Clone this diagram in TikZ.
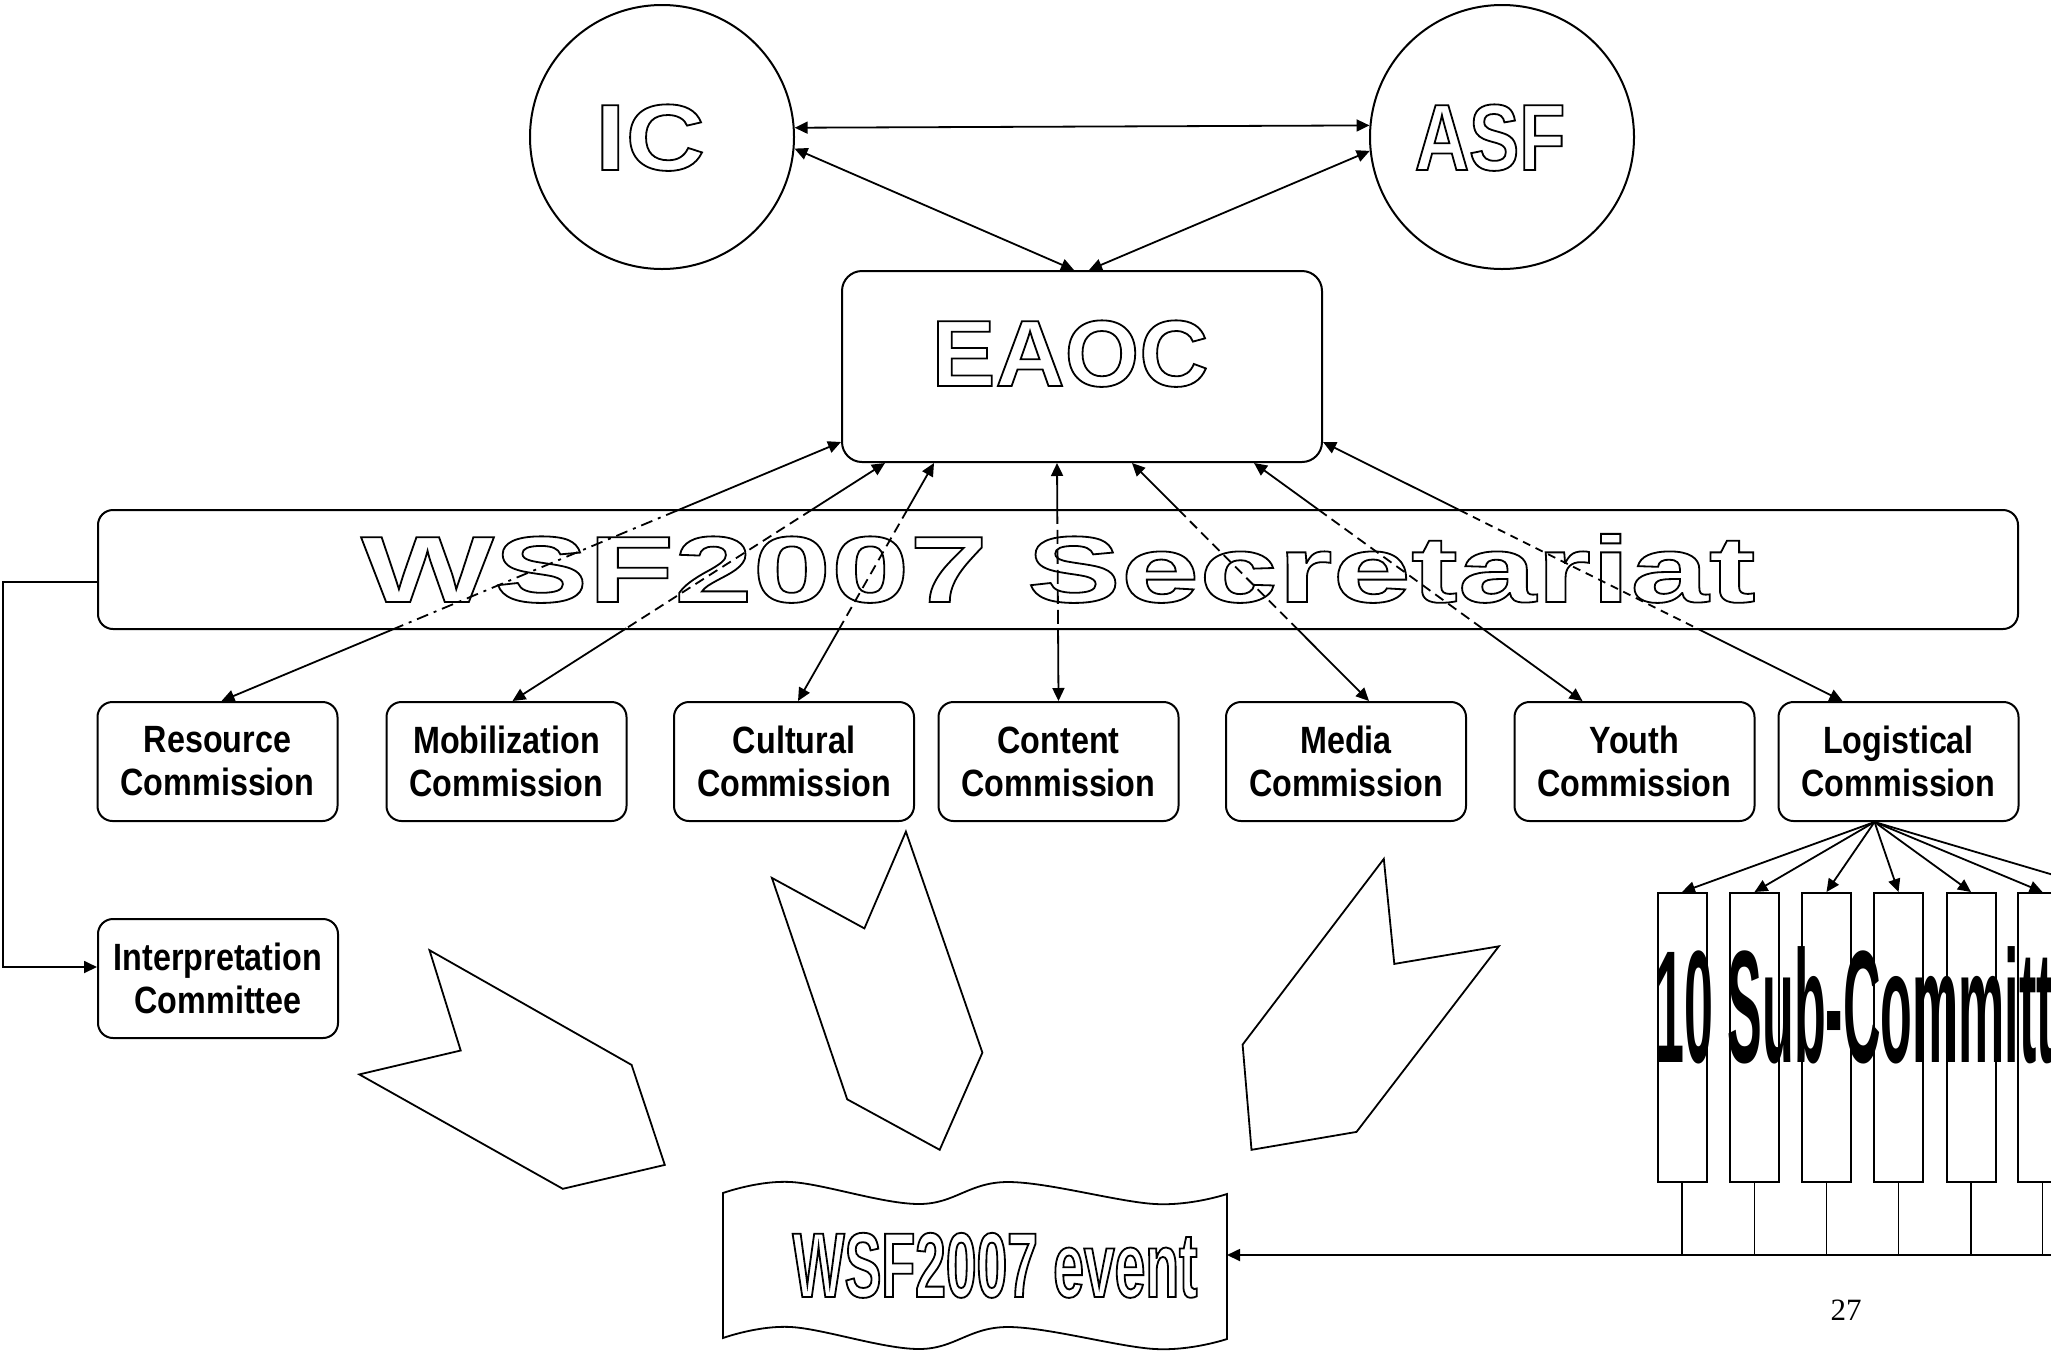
\documentclass[tikz,border=0pt]{standalone}
\usepackage{fontspec}
\setmainfont{Liberation Sans}
\newfontfamily\labf{Liberation Sans}[FakeStretch=0.85]
\newfontfamily\icf{Liberation Sans}[FakeStretch=1.17]
\newfontfamily\asff{Liberation Sans}[FakeStretch=0.8]
\newfontfamily\eaocf{Liberation Sans}[FakeStretch=1.02]
\newfontfamily\secf{Liberation Sans}[FakeStretch=1.5]
\newfontfamily\evf{Liberation Sans}[FakeStretch=0.6]
\newfontfamily\subf{Liberation Sans}[FakeStretch=0.325]
\newfontfamily\pnumf{Liberation Serif}
\usetikzlibrary{arrows.meta,calc}
\newcommand\outl[1]{\special{pdf:literal direct 1 Tr 0.9 w}#1\special{pdf:literal direct 0 Tr}}
\newcommand\secconn[5]{%
  \path (#1) -- (#2) coordinate[pos=#3] (q1) coordinate[pos=#4] (q2);
  \draw[arr] (q1) -- (#1);
  \draw[line width=0.9pt,#5] (q1) -- (q2);
  \draw[arr] (q2) -- (#2);
}
\begin{document}
\begin{tikzpicture}[x=0.5pt,y=-0.5pt,
  box/.style={draw,line width=1pt,rounded corners=7.5pt,minimum width=120pt,minimum height=59.5pt,inner sep=0pt,align=center,font=\labf\bfseries\fontsize{19}{21.5}\selectfont},
  subbox/.style={draw,line width=1pt,minimum width=24.5pt,minimum height=144.5pt,inner sep=0pt},
  arr/.style={line width=0.9pt,-{Triangle[length=6.5pt,width=6pt]}},
  darr/.style={line width=0.9pt,{Triangle[length=6.5pt,width=6pt]}-{Triangle[length=6.5pt,width=6pt]}},
  wa/.style={inner sep=0pt,anchor=base},
  poly/.style={line width=0.9pt,line join=miter},
  dashA/.style={dash pattern=on 6pt off 3pt on 1.5pt off 3pt},
  dashB/.style={dash pattern=on 5pt off 3pt}
]
\useasboundingbox (0,0) rectangle (2051,1350);
\clip (0,0) rectangle (2051,1350);

% main shapes
\node[draw,line width=1pt,circle,minimum size=132pt,inner sep=0pt] (ic) at (662,137) {};
\node[draw,line width=1pt,circle,minimum size=132pt,inner sep=0pt] (asf) at (1502,137) {};
\node[draw,line width=1pt,rounded corners=10pt,minimum width=240pt,minimum height=95.5pt,inner sep=0pt] (eaoc) at (1082,366.5) {};
\node[draw,line width=1pt,rounded corners=7.5pt,minimum width=960pt,minimum height=59.5pt,inner sep=0pt] (sec) at (1058,569.5) {};

\node[box] (res) at (217.5,761.5) {Resource\\Commission};
\node[box] (mob) at (506.5,761.5) {Mobilization\\Commission};
\node[box] (cul) at (794,761.5) {Cultural\\Commission};
\node[box] (con) at (1058.5,761.5) {Content\\Commission};
\node[box] (med) at (1346,761.5) {Media\\Commission};
\node[box] (you) at (1634.5,761.5) {Youth\\Commission};
\node[box] (log) at (1898.5,761.5) {Logistical\\Commission};
\node[box] (int) at (218,978.5) {Interpretation\\Committee};

% sub-committee bars
\node[subbox] (s1) at (1682,1037.5) {};
\node[subbox] (s2) at (1754.5,1037.5) {};
\node[subbox] (s3) at (1826.5,1037.5) {};
\node[subbox] (s4) at (1898.5,1037.5) {};
\node[subbox] (s5) at (1971,1037.5) {};
\node[subbox] (s6) at (2042.5,1037.5) {};
\node[wa,anchor=base west,font=\subf\bfseries\fontsize{80}{84}\selectfont] (subt) at (1655,1062) {10 Sub-Committees};

% top triangle of arrows
\draw[darr] (ic.4.8) -- (asf.175.2);
\draw[darr] (ic.-5.6) -- ([xshift=-4pt]eaoc.north);
\draw[darr] (asf.186) -- ([xshift=3.5pt]eaoc.north);

% EAOC <-> commissions through the secretariat
\coordinate (e1) at ($(eaoc.south west)+(0,-21)$);
\coordinate (e2) at ($(eaoc.south west)+(44,0)$);
\coordinate (e3) at ($(eaoc.south west)+(93,0)$);
\coordinate (e4) at ($(eaoc.south west)+(216,0)$);
\coordinate (e5) at ($(eaoc.south west)+(291,0)$);
\coordinate (e6) at ($(eaoc.south west)+(413,0)$);
\coordinate (e7) at ($(eaoc.south east)+(0,-21)$);
\coordinate (r1) at ([xshift=2pt]res.north);
\coordinate (r2) at ([xshift=3pt]mob.north);
\coordinate (r3) at ([xshift=2pt]cul.north);
\coordinate (r4) at (con.north);
\coordinate (r5) at ([xshift=11.5pt]med.north);
\coordinate (r6) at ([xshift=-26pt]you.north);
\coordinate (r7) at ([xshift=-28pt]log.north);
\secconn{e1}{r1}{0.2644}{0.7203}{dashA}
\secconn{e2}{r2}{0.1967}{0.6946}{dashB}
\secconn{e3}{r3}{0.1967}{0.6946}{dashB}
\secconn{e4}{r4}{0.1967}{0.6946}{dash pattern=on 7pt off 3pt}
\secconn{e5}{r5}{0.1967}{0.6946}{dashB}
\secconn{e6}{r6}{0.1967}{0.6946}{dashB}
\secconn{e7}{r7}{0.2644}{0.7203}{dash pattern=on 4pt off 3pt}

% secretariat -> interpretation
\draw[arr] ($(sec.west)+(0,12.5)$) -- ++(-94,0) |- ($(int.west)+(0,-11.5)$);

% logistical fan
\coordinate (fan) at ($(log.south)+(-24,0)$);
\foreach \s in {s1,s2,s3,s4,s5,s6} \draw[arr] (fan) -- (\s.north);
\coordinate (s7t) at (2114.5,893);
\draw[arr] (fan) -- (s7t);

% bus to event
\coordinate (busR) at (2060,1255);
\coordinate (evR) at (1227,1255);
\foreach \s in {s1,s2,s3,s4,s5,s6} \draw[line width=0.9pt] (\s.south) -- (\s.south |- busR);
\draw[arr] (busR) -- (evR);

% event tape
\draw[line width=0.9pt] plot[smooth,tension=0.6] coordinates {(723,1193) (791,1182) (919,1204) (1008,1182) (1155,1204) (1227,1194)}
  -- plot[smooth,tension=0.6] coordinates {(1227,1339) (1155,1349) (1008,1327) (919,1349) (791,1327) (723,1338)} -- cycle;

% block arrows
\draw[poly] (429.5,950.2) -- (631.6,1064.9) -- (664.8,1164.9) -- (562.8,1188.8) -- (359.3,1074.4) -- (460.7,1050.5) -- cycle;
\draw[poly] (905.9,831.6) -- (982.4,1052.6) -- (939.7,1149.8) -- (847.2,1099.3) -- (771.9,877.9) -- (864.4,928.4) -- cycle;
\draw[poly] (1383.8,858.9) -- (1394.3,963.9) -- (1498.8,946.3) -- (1356.5,1131.9) -- (1251.5,1149.8) -- (1242.6,1044.6) -- cycle;

% page number
\node[font=\pnumf\fontsize{15.5}{18}\selectfont,inner sep=0pt] (pg) at (1846,1310) {27};

% outlined WordArt texts
\node[wa,font=\icf\bfseries\fontsize{47}{50}\selectfont] (ict) at (650,170) {\outl{IC}};
\node[wa,font=\asff\bfseries\fontsize{47}{50}\selectfont] (asft) at (1490,170) {\outl{ASF}};
\node[wa,font=\eaocf\bfseries\fontsize{47}{50}\selectfont] (eaoct) at (1070,386) {\outl{EAOC}};
\node[wa,font=\secf\bfseries\fontsize{47}{50}\selectfont] (sect) at (1058.5,602) {\outl{WSF2007 Secretariat}};
\node[wa,font=\evf\bfseries\fontsize{46}{50}\selectfont] (evt) at (995,1297) {\outl{WSF2007 event}};
\end{tikzpicture}
\end{document}
